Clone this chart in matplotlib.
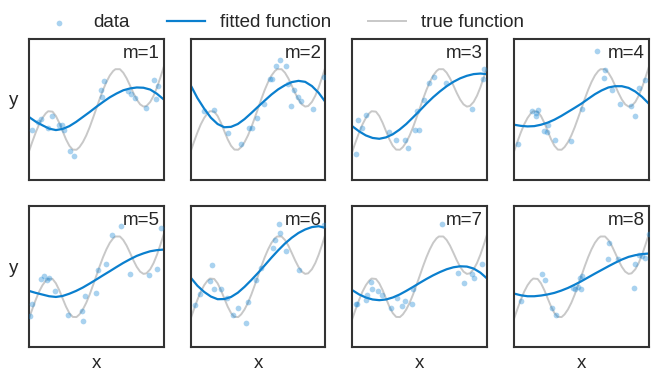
import numpy as np
import matplotlib.pyplot as plt

# true function, sampled (x in [0, 1], y in panel units)
true_x = [0, 0.025, 0.05, 0.075, 0.1, 0.125, 0.143, 0.175, 0.2, 0.225, 0.25,
          0.275, 0.3, 0.325, 0.353, 0.375, 0.4, 0.425, 0.45, 0.475, 0.5,
          0.525, 0.55, 0.575, 0.6, 0.625, 0.642, 0.675, 0.7, 0.725, 0.75,
          0.775, 0.8, 0.825, 0.85, 0.872, 0.9, 0.925, 0.95, 0.975, 1.0]
true_y = [0.2, 0.269, 0.334, 0.392, 0.438, 0.471, 0.486, 0.483, 0.452, 0.403,
          0.344, 0.286, 0.240, 0.213, 0.212, 0.231, 0.266, 0.313, 0.371,
          0.437, 0.505, 0.574, 0.638, 0.694, 0.740, 0.772, 0.785, 0.785,
          0.760, 0.720, 0.669, 0.616, 0.569, 0.535, 0.519, 0.523, 0.552,
          0.596, 0.655, 0.725, 0.8]

# fitted functions, read at x = 0, 0.05, ..., 1
fit_x = [0, 0.05, 0.1, 0.15, 0.2, 0.25, 0.3, 0.35, 0.4, 0.45, 0.5,
         0.55, 0.6, 0.65, 0.7, 0.75, 0.8, 0.85, 0.9, 0.95, 1.0]
fit_y = [
    [0.445, 0.412, 0.386, 0.362, 0.352, 0.36, 0.38, 0.41, 0.445, 0.48, 0.517,
     0.552, 0.585, 0.612, 0.635, 0.648, 0.655, 0.653, 0.64, 0.61, 0.57],
    [0.671, 0.58, 0.505, 0.44, 0.395, 0.372, 0.375, 0.395, 0.43, 0.473, 0.518,
     0.562, 0.605, 0.642, 0.671, 0.693, 0.702, 0.695, 0.665, 0.617, 0.552],
    [0.379, 0.343, 0.314, 0.296, 0.29, 0.3, 0.322, 0.355, 0.395, 0.442, 0.49,
     0.54, 0.586, 0.627, 0.664, 0.695, 0.72, 0.738, 0.75, 0.754, 0.75],
    [0.39, 0.382, 0.378, 0.38, 0.39, 0.405, 0.426, 0.452, 0.481, 0.51, 0.54,
     0.574, 0.607, 0.634, 0.655, 0.664, 0.664, 0.652, 0.626, 0.588, 0.54],
    [0.398, 0.384, 0.372, 0.36, 0.355, 0.362, 0.378, 0.398, 0.422, 0.45, 0.479,
     0.509, 0.538, 0.568, 0.597, 0.623, 0.647, 0.665, 0.68, 0.688, 0.692],
    [0.493, 0.435, 0.391, 0.358, 0.339, 0.34, 0.355, 0.385, 0.427, 0.475, 0.526,
     0.58, 0.635, 0.687, 0.735, 0.776, 0.81, 0.835, 0.852, 0.858, 0.846],
    [0.403, 0.373, 0.351, 0.337, 0.332, 0.337, 0.351, 0.372, 0.398, 0.426, 0.455,
     0.483, 0.509, 0.532, 0.552, 0.566, 0.573, 0.571, 0.557, 0.528, 0.486],
    [0.379, 0.367, 0.36, 0.36, 0.365, 0.373, 0.384, 0.4, 0.419, 0.442, 0.467,
     0.494, 0.521, 0.547, 0.573, 0.598, 0.621, 0.64, 0.652, 0.66, 0.664],
]

# noisy samples per panel
data_x = [
    [0.025, 0.064, 0.086, 0.138, 0.168, 0.225, 0.247, 0.262, 0.306, 0.336,
     0.536, 0.558, 0.541, 0.736, 0.760, 0.785, 0.867, 0.926, 0.958, 0.941],
    [0.099, 0.176, 0.275, 0.377, 0.434, 0.459, 0.489, 0.541, 0.591, 0.603,
     0.635, 0.660, 0.710, 0.720, 0.764, 0.797, 0.819, 0.747, 0.906, 0.988],
    [0.025, 0.039, 0.074, 0.103, 0.27, 0.327, 0.388, 0.413, 0.462, 0.491,
     0.479, 0.533, 0.570, 0.609, 0.693, 0.885, 0.971, 0.978],
    [0.027, 0.135, 0.16, 0.175, 0.163, 0.224, 0.241, 0.254, 0.303, 0.419,
     0.507, 0.618, 0.672, 0.667, 0.729, 0.783, 0.869, 0.899, 0.931, 0.973],
    [0.007, 0.025, 0.089, 0.114, 0.136, 0.151, 0.193, 0.291, 0.395, 0.402,
     0.415, 0.496, 0.514, 0.570, 0.62, 0.686, 0.748, 0.891, 0.951, 0.983],
    [0.032, 0.069, 0.144, 0.159, 0.176, 0.226, 0.273, 0.318, 0.355, 0.41,
     0.429, 0.484, 0.524, 0.608, 0.623, 0.665, 0.653, 0.710, 0.804, 0.988],
    [0.029, 0.037, 0.103, 0.111, 0.135, 0.147, 0.192, 0.221, 0.287, 0.332,
     0.369, 0.393, 0.442, 0.450, 0.663, 0.781, 0.83, 0.889, 0.904, 0.963],
    [0.049, 0.204, 0.229, 0.278, 0.315, 0.438, 0.451, 0.475, 0.488, 0.505,
     0.5, 0.704, 0.697, 0.771, 0.889, 0.899, 0.931, 0.951, 0.975, 0.998],
]
data_y = [
    [0.35, 0.41, 0.433, 0.369, 0.45, 0.386, 0.39, 0.35, 0.2, 0.171,
     0.64, 0.7, 0.588, 0.631, 0.607, 0.583, 0.512, 0.707, 0.664, 0.576],
    [0.486, 0.493, 0.333, 0.255, 0.369, 0.367, 0.44, 0.536, 0.714, 0.714,
     0.807, 0.848, 0.807, 0.683, 0.636, 0.588, 0.56, 0.521, 0.5, 0.731],
    [0.183, 0.421, 0.369, 0.457, 0.338, 0.279, 0.279, 0.226, 0.35, 0.35,
     0.486, 0.569, 0.688, 0.726, 0.69, 0.5, 0.714, 0.783],
    [0.255, 0.486, 0.476, 0.498, 0.45, 0.343, 0.338, 0.386, 0.283, 0.271,
     0.5, 0.914, 0.779, 0.719, 0.636, 0.54, 0.521, 0.45, 0.648, 0.707],
    [0.218, 0.303, 0.486, 0.502, 0.479, 0.493, 0.396, 0.23, 0.254, 0.182,
     0.36, 0.386, 0.55, 0.588, 0.794, 0.858, 0.517, 0.509, 0.557, 0.848],
    [0.296, 0.379, 0.469, 0.581, 0.41, 0.41, 0.351, 0.23, 0.277, 0.173,
     0.32, 0.479, 0.564, 0.706, 0.763, 0.813, 0.877, 0.682, 0.545, 0.87],
    [0.308, 0.303, 0.336, 0.372, 0.462, 0.415, 0.396, 0.372, 0.273, 0.348,
     0.289, 0.325, 0.308, 0.41, 0.872, 0.528, 0.457, 0.521, 0.493, 0.592],
    [0.325, 0.517, 0.479, 0.273, 0.225, 0.422, 0.415, 0.427, 0.493, 0.502,
     0.41, 0.742, 0.628, 0.628, 0.422, 0.588, 0.652, 0.647, 0.633, 0.801],
]

labels = ['m=%d' % (i + 1) for i in range(8)]

plt.rcParams['font.family'] = ['Liberation Sans', 'DejaVu Sans']

fig, axes = plt.subplots(2, 4, figsize=(6.58, 3.82), dpi=100)
fig.subplots_adjust(left=0.044, right=0.986, top=0.898, bottom=0.092,
                    wspace=0.2, hspace=0.19)

for i, ax in enumerate(axes.flat):
    ax.scatter(data_x[i], data_y[i], s=17, color='#1f8ad6', alpha=0.38,
               linewidths=0, label='data', zorder=3)
    ax.plot(fit_x, fit_y[i], color='#0a7fce', lw=1.6, label='fitted function',
            zorder=2)
    ax.plot(true_x, true_y, color='#c8c8c8', lw=1.4, label='true function',
            zorder=1)
    ax.text(0.97, 0.9, labels[i], transform=ax.transAxes, ha='right',
            va='center', fontsize=13.5, color='#262626')
    ax.set_xlim(0, 1)
    ax.set_ylim(0, 1)
    ax.set_xticks([])
    ax.set_yticks([])
    for sp in ax.spines.values():
        sp.set_color('#333333')
        sp.set_linewidth(1.5)
    if i % 4 == 0:
        ax.set_ylabel('y', rotation=0, fontsize=13.5, color='#262626',
                      ha='center', va='center')
        ax.yaxis.set_label_coords(-0.115, 0.56)
    if i >= 4:
        ax.set_xlabel('x', fontsize=13.5, color='#262626', labelpad=6)

handles, names = axes.flat[0].get_legend_handles_labels()
fig.legend(handles, names, loc='center', bbox_to_anchor=(0.429, 0.94),
           ncol=3, frameon=False, fontsize=13.5, labelcolor='#262626')

fig.savefig('out.png', dpi=100)
